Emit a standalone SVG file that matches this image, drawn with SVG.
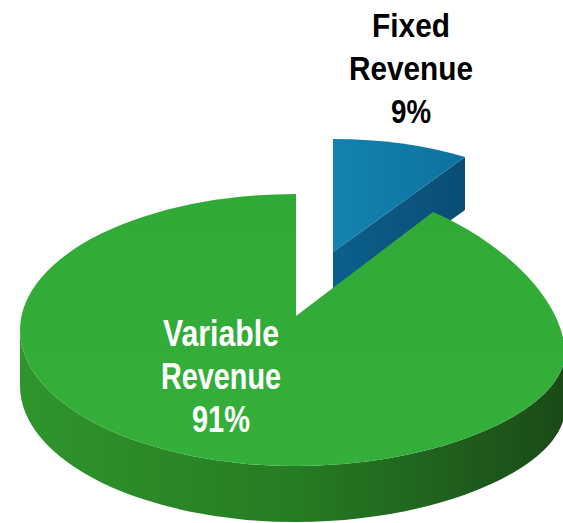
<svg xmlns="http://www.w3.org/2000/svg" width="563" height="523" viewBox="0 0 563 523">
  <defs>
    <linearGradient id="greenSide" x1="20" y1="0" x2="566" y2="0" gradientUnits="userSpaceOnUse">
      <stop offset="0" stop-color="#2f952c"/>
      <stop offset="0.5" stop-color="#267c23"/>
      <stop offset="1" stop-color="#1a4a17"/>
    </linearGradient>
    <linearGradient id="greenTop" x1="0" y1="190" x2="0" y2="466" gradientUnits="userSpaceOnUse">
      <stop offset="0" stop-color="#31a936"/>
      <stop offset="1" stop-color="#34b03a"/>
    </linearGradient>
    <linearGradient id="blueTop" x1="333" y1="0" x2="465" y2="0" gradientUnits="userSpaceOnUse">
      <stop offset="0" stop-color="#1283b0"/>
      <stop offset="1" stop-color="#0d729f"/>
    </linearGradient>
    <linearGradient id="blueSide" x1="333" y1="0" x2="465" y2="0" gradientUnits="userSpaceOnUse">
      <stop offset="0" stop-color="#0c5f8d"/>
      <stop offset="1" stop-color="#0a4d74"/>
    </linearGradient>
  </defs>
  <style>
    .lbl { font-family: "Liberation Sans Narrow", "Liberation Sans", Arial, sans-serif; font-weight: bold; text-anchor: middle; }
    .dark { fill: #000000; font-size: 34px; }
    .light { fill: #ffffff; font-size: 36px; }
  </style>
  <rect width="563" height="523" fill="#ffffff"/>

  <g id="slice-fixed">
    <path d="M333,252 L465,157 L465,210 L333,305 Z" fill="url(#blueSide)"/>
    <path d="M333,252 L333,139 A255,127 0 0 1 465,157 Z" fill="url(#blueTop)"/>
  </g>

  <g id="slice-variable">
    <path d="M20,330 A276,136 0 0 0 296,466 C440,466 568,410 565,350 L565,406 C568,466 440,522 296,522 A276,136 0 0 1 20,386 Z" fill="url(#greenSide)"/>
    <path d="M296,316 L296,194 A276,136 0 0 0 20,330 A276,136 0 0 0 296,466 C440,466 568,410 565,350 C560,290 490,236 433,212 Z" fill="url(#greenTop)"/>
  </g>

  <g id="label-fixed">
    <text class="lbl dark" x="411" y="37" textLength="78" lengthAdjust="spacingAndGlyphs">Fixed</text>
    <text class="lbl dark" x="411" y="80" textLength="124" lengthAdjust="spacingAndGlyphs">Revenue</text>
    <text class="lbl dark" x="411" y="123" textLength="40" lengthAdjust="spacingAndGlyphs">9%</text>
  </g>

  <g id="label-variable">
    <text class="lbl light" x="221" y="346" textLength="116" lengthAdjust="spacingAndGlyphs">Variable</text>
    <text class="lbl light" x="221" y="389" textLength="120" lengthAdjust="spacingAndGlyphs">Revenue</text>
    <text class="lbl light" x="221" y="432" textLength="58" lengthAdjust="spacingAndGlyphs">91%</text>
  </g>
</svg>
